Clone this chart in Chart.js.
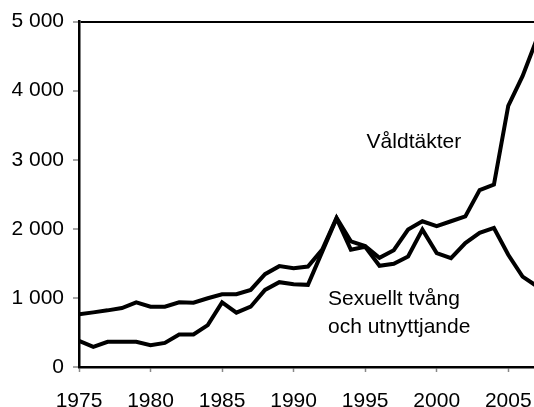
<!DOCTYPE html>
<html>
<head>
<meta charset="utf-8">
<script src="https://cdn.jsdelivr.net/npm/chart.js@4.4.0/dist/chart.umd.min.js"></script>
<style>
  html, body { margin: 0; padding: 0; background: #fff; }
  #wrap { width: 534px; height: 407px; }
</style>
</head>
<body>
<div id="wrap"><canvas id="chart"></canvas></div>
<script>
// Anmälda brott, antal per år
const years = [1975, 1976, 1977, 1978, 1979, 1980, 1981, 1982, 1983, 1984,
               1985, 1986, 1987, 1988, 1989, 1990, 1991, 1992, 1993, 1994,
               1995, 1996, 1997, 1998, 1999, 2000, 2001, 2002, 2003, 2004,
               2005, 2006, 2007];

const valdtakter = [762, 791, 820, 854, 937, 873, 873, 937, 931, 995,
                    1053, 1053, 1116, 1344, 1460, 1431, 1455, 1700, 2160, 1820,
                    1750, 1580, 1690, 1990, 2110, 2040, 2110, 2180, 2560, 2640,
                    3780, 4210, 4750];

const sexuelltTvang = [378, 291, 364, 364, 364, 316, 349, 471, 471, 607,
                       935, 786, 873, 1116, 1228, 1199, 1189, 1670, 2150, 1698,
                       1740, 1465, 1494, 1600, 1989, 1650, 1577, 1795, 1941, 2013,
                       1625, 1309, 1170];

const yTicks = [0, 1000, 2000, 3000, 4000, 5000];
const xTicks = [1975, 1980, 1985, 1990, 1995, 2000, 2005];

const FONT = '"Liberation Sans", Arial, sans-serif';

function toPoints(vals) {
    return vals.map((v, i) => ({ x: years[i], y: v }));
}

// tusental med mellanslag, t.ex. 5 000
function fmt(v) {
    return String(v).replace(/\B(?=(\d{3})+(?!\d))/g, ' ');
}

// texterna inne i diagrammet
const labelPlugin = {
    id: 'seriesLabels',
    afterDatasetsDraw(chart) {
        const ctx = chart.ctx;
        const x = chart.scales.x;
        const y = chart.scales.y;
        ctx.save();
        ctx.fillStyle = '#000';
        ctx.font = '21px ' + FONT;
        ctx.textAlign = 'left';
        ctx.textBaseline = 'alphabetic';
        ctx.fillText('Våldtäkter', x.getPixelForValue(1995.1), y.getPixelForValue(3170));
        ctx.fillText('Sexuellt tvång', x.getPixelForValue(1992.4), y.getPixelForValue(900));
        ctx.fillText('och utnyttjande', x.getPixelForValue(1992.4), y.getPixelForValue(485));
        ctx.restore();
    }
};

const ctx = document.getElementById('chart').getContext('2d');
const myChart = new Chart(ctx, {
    type: 'line',
    data: {
        datasets: [
            {
                label: 'Våldtäkter',
                data: toPoints(valdtakter),
                borderColor: '#000',
                borderWidth: 4,
                pointRadius: 0,
                tension: 0,
                fill: false
            },
            {
                label: 'Sexuellt tvång och utnyttjande',
                data: toPoints(sexuelltTvang),
                borderColor: '#000',
                borderWidth: 4,
                pointRadius: 0,
                tension: 0,
                fill: false
            }
        ]
    },
    options: {
        responsive: true,
        maintainAspectRatio: false,
        animation: false,
        layout: { padding: { top: 10, right: 0, left: 0, bottom: 0 } },
        plugins: {
            legend: { display: false },
            tooltip: { enabled: false }
        },
        scales: {
            x: {
                type: 'linear',
                min: 1975,
                max: 2006.8,
                afterBuildTicks: scale => {
                    scale.ticks = xTicks.map(v => ({ value: v }));
                },
                afterFit: scale => {
                    scale.height = 40;
                    scale.paddingLeft = 0;
                    scale.paddingRight = 0;
                },
                ticks: {
                    color: '#000',
                    font: { family: FONT, size: 21 },
                    padding: 17,
                    maxRotation: 0,
                    autoSkip: false,
                    callback: v => String(v)
                },
                grid: {
                    drawOnChartArea: false,
                    drawTicks: true,
                    tickLength: 5,
                    tickColor: '#888',
                    tickWidth: 1.5
                },
                border: { color: '#000', width: 2.5 }
            },
            y: {
                min: 0,
                max: 5000,
                afterBuildTicks: scale => {
                    scale.ticks = yTicks.map(v => ({ value: v }));
                },
                afterFit: scale => { scale.width = 79; },
                ticks: {
                    color: '#000',
                    font: { family: FONT, size: 21 },
                    padding: 9,
                    callback: v => fmt(v)
                },
                grid: {
                    // bara ramlinjen överst
                    color: c => (c.tick && c.tick.value === 5000) ? '#000' : 'rgba(0,0,0,0)',
                    lineWidth: 2,
                    drawTicks: true,
                    tickLength: 6,
                    tickColor: '#888',
                    tickWidth: 1.5
                },
                border: { color: '#000', width: 2.5 }
            }
        }
    },
    plugins: [labelPlugin]
});
</script>
</body>
</html>
